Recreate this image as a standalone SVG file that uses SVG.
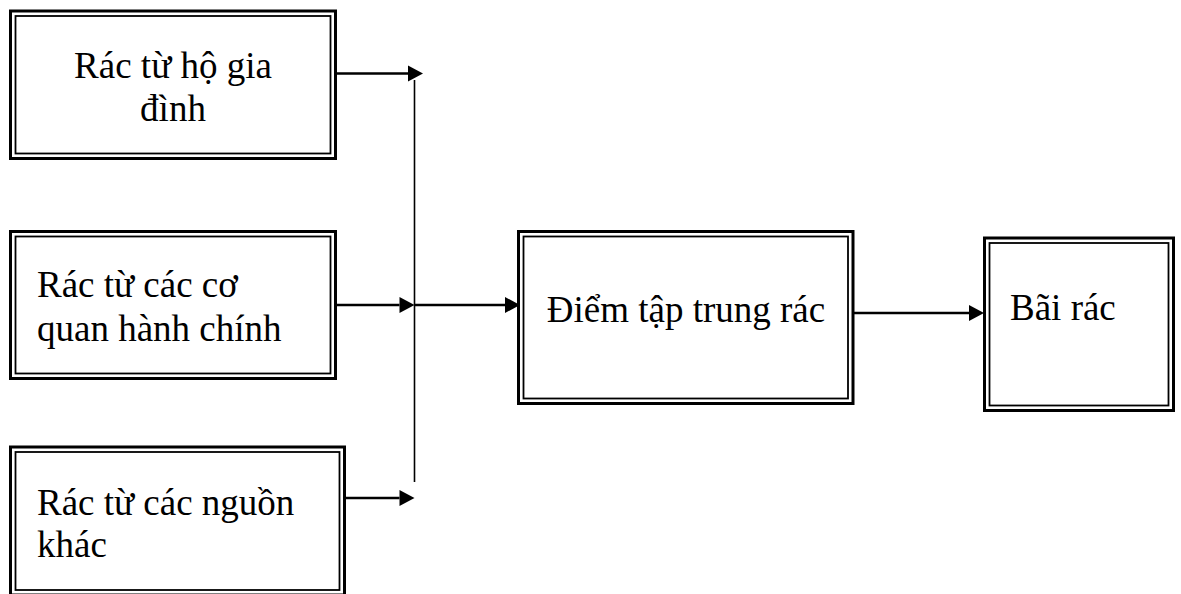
<svg xmlns="http://www.w3.org/2000/svg" width="1181" height="594" viewBox="0 0 1181 594">
  <defs>
    <style>
      .outer { fill: none; stroke: #000; stroke-width: 3; }
      .inner { fill: none; stroke: #000; stroke-width: 1.8; }
      .label { font-family: "Liberation Serif", "Times New Roman", serif; font-size: 37px; fill: #000; }
      .flow { fill: none; stroke: #000; stroke-width: 2.3; }
      .trunk { fill: none; stroke: #000; stroke-width: 1.6; }
    </style>
    <!-- arrowhead anchored at its base so the shaft stops where the head begins -->
    <marker id="head" markerUnits="userSpaceOnUse" markerWidth="16" markerHeight="16" refX="0" refY="8" orient="auto" overflow="visible">
      <path d="M0,0 L15,8 L0,16 Z" fill="#000"/>
    </marker>
  </defs>
  <rect width="1181" height="594" fill="#fff"/>

  <g id="node-ho-gia-dinh">
    <rect class="outer" x="10.5" y="11" width="325" height="147.5"/>
    <rect class="inner" x="15.5" y="16" width="315" height="137.5"/>
    <text class="label" x="173" y="78" text-anchor="middle">Rác từ hộ gia</text>
    <text class="label" x="173" y="121" text-anchor="middle">đình</text>
  </g>

  <g id="node-co-quan">
    <rect class="outer" x="10.5" y="231.5" width="325" height="147"/>
    <rect class="inner" x="15.5" y="236.5" width="315" height="137"/>
    <text class="label" x="37" y="297">Rác từ các cơ</text>
    <text class="label" x="37" y="341">quan hành chính</text>
  </g>

  <g id="node-nguon-khac">
    <rect class="outer" x="10.5" y="447" width="334" height="148"/>
    <rect class="inner" x="15.5" y="452" width="324" height="138"/>
    <text class="label" x="37" y="515">Rác từ các nguồn</text>
    <text class="label" x="37" y="557">khác</text>
  </g>

  <g id="node-diem-tap-trung">
    <rect class="outer" x="518.5" y="231.5" width="334.5" height="172"/>
    <rect class="inner" x="523.5" y="236.5" width="324.5" height="162"/>
    <text class="label" x="686" y="322" text-anchor="middle">Điểm tập trung rác</text>
  </g>

  <g id="node-bai-rac">
    <rect class="outer" x="984.5" y="238" width="189" height="172.5"/>
    <rect class="inner" x="989.5" y="243" width="179" height="162.5"/>
    <text class="label" x="1010" y="320">Bãi rác</text>
  </g>

  <g id="connectors">
    <line class="trunk" x1="414.5" y1="80" x2="414.5" y2="482"/>
    <line class="flow" x1="335.5" y1="73.5" x2="408" y2="73.5" marker-end="url(#head)"/>
    <line class="flow" x1="335.5" y1="305" x2="399.5" y2="305" marker-end="url(#head)"/>
    <line class="flow" x1="414" y1="305" x2="505" y2="305" marker-end="url(#head)"/>
    <line class="flow" x1="344.5" y1="498" x2="399.5" y2="498" marker-end="url(#head)"/>
    <line class="flow" x1="853" y1="313" x2="969" y2="313" marker-end="url(#head)"/>
  </g>
</svg>
